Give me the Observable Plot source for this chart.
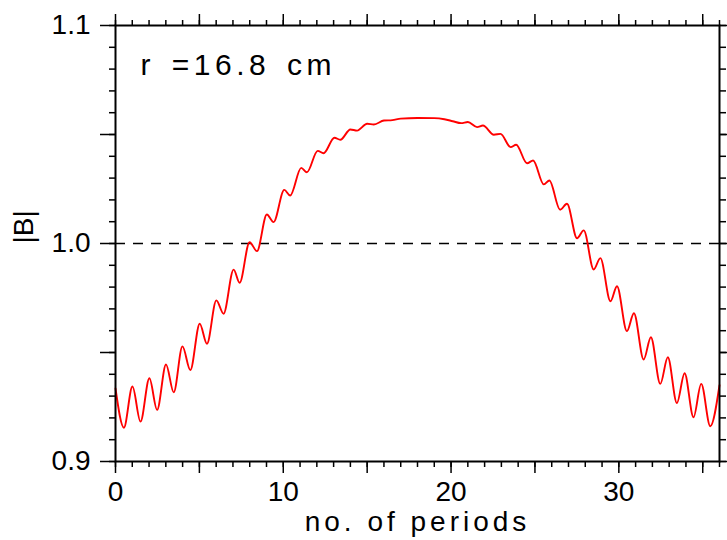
<!DOCTYPE html>
<html><head><meta charset="utf-8">
<script src="https://cdn.jsdelivr.net/npm/d3@7"></script>
<script src="https://cdn.jsdelivr.net/npm/@observablehq/plot@0.6"></script>
<style>body{margin:0;background:#fff}</style>
</head><body><div id="chart"></div>
<script>
const periods = [0, 0.5, 1.01, 1.49, 2.02, 2.48, 3.01, 3.47, 3.99, 4.46, 5.02, 5.45, 6.01, 6.44,
  7.04, 7.4, 7.99, 8.43, 9.02, 9.42, 10.06, 10.41, 11.07, 11.41, 12.05, 12.4, 13.05, 13.4,
  14.0, 14.4, 15.0, 15.4, 16.0, 16.5, 17.0, 18.0, 19.0, 19.6, 20.1, 20.6, 21.0, 21.55, 21.9,
  22.55, 22.95, 23.55, 23.88, 24.53, 24.89, 25.53, 25.86, 26.5, 26.91, 27.51, 27.91, 28.5, 28.9,
  29.5, 29.89, 30.48, 30.9, 31.48, 31.91, 32.47, 32.92, 33.46, 33.92, 34.45, 34.91, 35.45, 36];
const fieldB = [0.9335, 0.9155, 0.9344, 0.9183, 0.9382, 0.9237, 0.9445, 0.9317, 0.9528, 0.9419, 0.9632, 0.954, 0.9739, 0.9678,
  0.988, 0.982, 1.0006, 0.9965, 1.0133, 1.0098, 1.0246, 1.022, 1.0347, 1.0327, 1.0425, 1.0414, 1.0485, 1.0476,
  1.0523, 1.0518, 1.0549, 1.0546, 1.0564, 1.0566, 1.0573, 1.0576, 1.0575, 1.057, 1.0561, 1.0552, 1.0557, 1.0534, 1.0541,
  1.0499, 1.0503, 1.0442, 1.0453, 1.0368, 1.0381, 1.0271, 1.0289, 1.0155, 1.0182, 1.0024, 1.006, 0.9881, 0.9933,
  0.9735, 0.9804, 0.9598, 0.968, 0.9468, 0.957, 0.9356, 0.9478, 0.9268, 0.9405, 0.9203, 0.9356, 0.9162, 0.935];
const xMinorTicks = d3.range(0, 37, 1);
const xMajorTicks = d3.range(0, 36, 5);
const xTickLabels = [0, 10, 20, 30];
const yMinorTicks = d3.range(0, 21).map(i => +(0.9 + i * 0.01).toFixed(2));
const yMajorTicks = [0.9, 0.95, 1.0, 1.05, 1.1];
const yTickLabels = [0.9, 1.0, 1.1];
const refLevel = [1.0];
const annotation = ["r =16.8 cm"];
const xLabel = ["no. of periods"];
const yLabel = ["|B|"];

const data = periods.map((p, i) => ({p, b: fieldB[i]}));
const fmtX = d => xTickLabels.includes(d) ? String(d) : "";
const fmtY = d => yTickLabels.some(v => Math.abs(v - d) < 1e-9) ? d.toFixed(1) : "";
const none = () => "";

const chart = Plot.plot({
  width: 727, height: 540,
  marginLeft: 115, marginRight: 8, marginTop: 25, marginBottom: 79,
  style: {fontFamily: "'Liberation Sans', Arial, sans-serif", fontSize: "28px", background: "#fff", color: "#000"},
  x: {domain: [0, 36]},
  y: {domain: [0.9, 1.1]},
  marks: [
    Plot.ruleY(refLevel, {stroke: "#000", strokeWidth: 1.5, strokeDasharray: "10,8"}),
    Plot.line(data, {x: "p", y: "b", stroke: "#ff0000", strokeWidth: 1.9, curve: "monotone-x"}),
    Plot.axisX(xMinorTicks, {anchor: "bottom", tickSize: 6, tickFormat: none, label: null, strokeWidth: 1.5}),
    Plot.axisX(xMajorTicks, {anchor: "bottom", tickSize: 12, tickPadding: 8, tickFormat: fmtX, label: null, strokeWidth: 1.5}),
    Plot.axisX(xMinorTicks, {anchor: "top", tickSize: 6, tickFormat: none, label: null, strokeWidth: 1.5}),
    Plot.axisX(xMajorTicks, {anchor: "top", tickSize: 12, tickFormat: none, label: null, strokeWidth: 1.5}),
    Plot.axisY(yMinorTicks, {anchor: "left", tickSize: 6, tickFormat: none, label: null, strokeWidth: 1.5}),
    Plot.axisY(yMajorTicks, {anchor: "left", tickSize: 15, tickPadding: 10, tickFormat: fmtY, label: null, strokeWidth: 1.5}),
    Plot.axisY(yMinorTicks, {anchor: "right", tickSize: 6, tickFormat: none, label: null, strokeWidth: 1.5}),
    Plot.axisY(yMajorTicks, {anchor: "right", tickSize: 12, tickFormat: none, label: null, strokeWidth: 1.5}),
    Plot.frame({stroke: "#000", strokeWidth: 2}),
    Plot.text(annotation, {frameAnchor: "top-left", dx: 25, dy: 28, textAnchor: "start", lineAnchor: "top", fontSize: 30}),
    Plot.text(xLabel, {frameAnchor: "bottom", dy: 61, lineAnchor: "middle", fontSize: 28}),
    Plot.text(yLabel, {frameAnchor: "left", dx: -91, rotate: -90, lineAnchor: "middle", fontSize: 28})
  ]
});
document.getElementById("chart").appendChild(chart);
const svg = d3.select(chart.tagName === "svg" ? chart : chart.querySelector("svg"));
svg.selectAll("text").filter(function () { return this.textContent === annotation[0]; }).style("letter-spacing", "4.5px").style("word-spacing", "4px");
svg.selectAll("text").filter(function () { return this.textContent === xLabel[0]; }).style("letter-spacing", "4px");
</script>
</body></html>
